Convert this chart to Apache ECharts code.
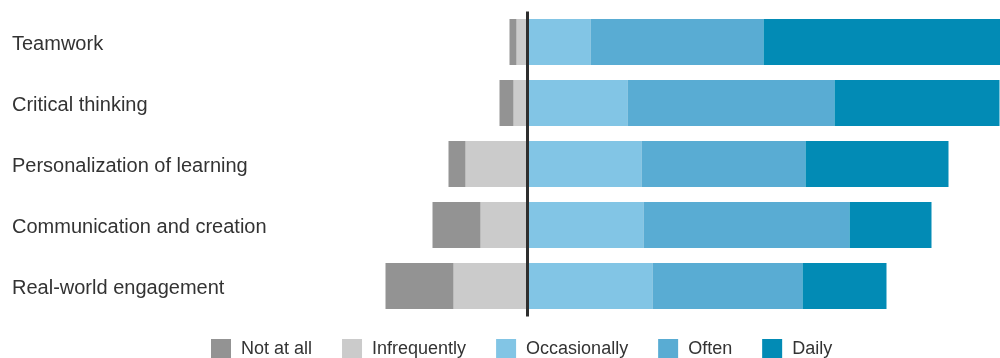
<!DOCTYPE html>
<html>
<head>
<meta charset="utf-8">
<script src="https://cdn.jsdelivr.net/npm/echarts@6/dist/echarts.min.js"></script>
<style>
  html, body { margin: 0; padding: 0; background: #fff; }
  #chart { width: 1000px; height: 358px; }
</style>
</head>
<body>
<div id="chart"></div>
<script>
// categories, top to bottom
var skills = ['Teamwork', 'Critical thinking', 'Personalization of learning',
  'Communication and creation', 'Real-world engagement'];

// percent of respondents (negative side drawn left of the zero line)
var notAtAll     = [1.4, 2.8, 3.4, 9.6, 13.6];
var infrequently = [2.2, 2.8, 12.4, 9.4, 14.8];
var occasionally = [12.6, 20.0, 22.8, 23.2, 25.0];
var often        = [34.6, 41.4, 32.8, 41.2, 30.0];
var daily        = [49.2, 33.0, 28.6, 16.4, 16.8];

var legendNames = ['Not at all', 'Infrequently', 'Occasionally', 'Often', 'Daily'];

function neg(arr) {
  return arr.map(function (v) { return -v; });
}

var chart = echarts.init(document.getElementById('chart'));

chart.setOption({
  animation: false,
  textStyle: { fontFamily: 'Liberation Sans, Arial, sans-serif' },
  grid: {
    left: 377.5,
    right: 0,
    top: 11.5,
    bottom: 41.5
  },
  legend: {
    data: legendNames,
    left: 211,
    top: 339,
    padding: 0,
    itemWidth: 20,
    itemHeight: 20,
    itemGap: 30,
    icon: 'rect',
    textStyle: {
      color: '#333',
      fontSize: 18,
      padding: [0, 0, 0, 5]
    }
  },
  xAxis: {
    type: 'value',
    min: -30,
    max: 94.5,
    show: false
  },
  yAxis: {
    type: 'category',
    data: skills,
    inverse: true,
    axisLine: { show: false },
    axisTick: { show: false },
    splitLine: { show: false },
    axisLabel: {
      align: 'left',
      margin: 365.5,
      formatter: '{t|{value}}',
      rich: {
        t: {
          color: '#333',
          fontSize: 20,
          fontFamily: 'Liberation Sans, Arial, sans-serif',
          padding: [5, 0, 0, 0]
        }
      }
    }
  },
  series: [
    {
      // stacked first so it sits next to the zero line
      name: 'Infrequently',
      type: 'bar',
      stack: 'total',
      barWidth: 46,
      itemStyle: { color: '#cbcbcb' },
      data: neg(infrequently)
    },
    {
      name: 'Not at all',
      type: 'bar',
      stack: 'total',
      barWidth: 46,
      itemStyle: { color: '#939393' },
      data: neg(notAtAll)
    },
    {
      name: 'Occasionally',
      type: 'bar',
      stack: 'total',
      barWidth: 46,
      itemStyle: { color: '#82c5e5' },
      data: occasionally
    },
    {
      name: 'Often',
      type: 'bar',
      stack: 'total',
      barWidth: 46,
      itemStyle: { color: '#59acd3' },
      data: often
    },
    {
      name: 'Daily',
      type: 'bar',
      stack: 'total',
      barWidth: 46,
      itemStyle: { color: '#028bb5' },
      data: daily,
      markLine: {
        silent: true,
        symbol: 'none',
        label: { show: false },
        lineStyle: { color: '#2e2e2e', width: 3, type: 'solid' },
        data: [{ xAxis: 0 }]
      }
    }
  ]
});
</script>
</body>
</html>
